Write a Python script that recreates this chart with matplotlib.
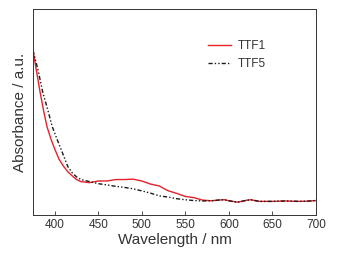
import numpy as np
import matplotlib.pyplot as plt

plt.rcParams['font.family'] = ['Liberation Sans', 'DejaVu Sans']

# TTF1 (red solid)
wl1 = [375, 379, 383, 387, 391, 396, 400, 405, 410, 415, 420, 425, 430, 440, 450, 460, 470, 480,
       490, 500, 510, 520, 530, 540, 550, 560, 570, 580, 590, 595, 600, 610, 620, 625, 635, 650,
       665, 680, 690, 700]
ttf1 = [0.80, 0.70, 0.60, 0.51, 0.43, 0.364, 0.32, 0.27, 0.237, 0.21, 0.19, 0.172, 0.162, 0.157,
        0.165, 0.165, 0.172, 0.172, 0.174, 0.165, 0.150, 0.141, 0.118, 0.105, 0.090, 0.084,
        0.072, 0.069, 0.073, 0.074, 0.069, 0.062, 0.071, 0.074, 0.066, 0.066, 0.068, 0.066,
        0.067, 0.070]

# TTF5 (black dash-dot-dot)
wl5 = [375, 381, 386, 392, 397, 403, 409, 415, 420, 425, 430, 440, 450, 460, 470, 480,
       490, 500, 510, 520, 530, 540, 550, 560, 570, 580, 590, 595, 600, 610, 620, 625, 635, 650,
       665, 680, 690, 700]
ttf5 = [0.80, 0.70, 0.60, 0.51, 0.43, 0.364, 0.30, 0.235, 0.205, 0.185, 0.172, 0.162,
        0.152, 0.146, 0.139, 0.134, 0.127, 0.117, 0.106, 0.093, 0.087, 0.079, 0.074, 0.070,
        0.068, 0.069, 0.073, 0.074, 0.069, 0.062, 0.071, 0.074, 0.066, 0.066, 0.068, 0.066,
        0.067, 0.070]

fig = plt.figure(figsize=(3.51, 2.59), dpi=100)
ax = fig.add_axes([0.094, 0.170, 0.806, 0.795])

ax.plot(wl1, ttf1, color='#e8202a', lw=1.0, label='TTF1')
ax.plot(wl5, ttf5, color='#1a1a1a', lw=1.0, dashes=(3, 1.5, 1, 1.5, 1, 1.5), label='TTF5')

ax.set_xlim(375, 700)
ax.set_ylim(0, 1)
ax.set_xticks([400, 450, 500, 550, 600, 650, 700])
ax.set_yticks([])
ax.tick_params(axis='x', direction='in', length=3, width=0.6, labelsize=8.5, pad=3, colors='#333333')
for s in ax.spines.values():
    s.set_linewidth(0.7)
    s.set_color('#333333')

ax.set_xlabel('Wavelength / nm', fontsize=11, color='#333333', labelpad=1)
ax.set_ylabel('Absorbance / a.u.', fontsize=11, color='#333333', labelpad=4)

ax.legend(loc='upper left', bbox_to_anchor=(0.618, 0.85), frameon=False, fontsize=8.5,
          borderpad=0, borderaxespad=0, handlelength=2.0, handletextpad=0.5,
          labelspacing=0.5, labelcolor='#333333')

fig.savefig('out.png', dpi=100)
